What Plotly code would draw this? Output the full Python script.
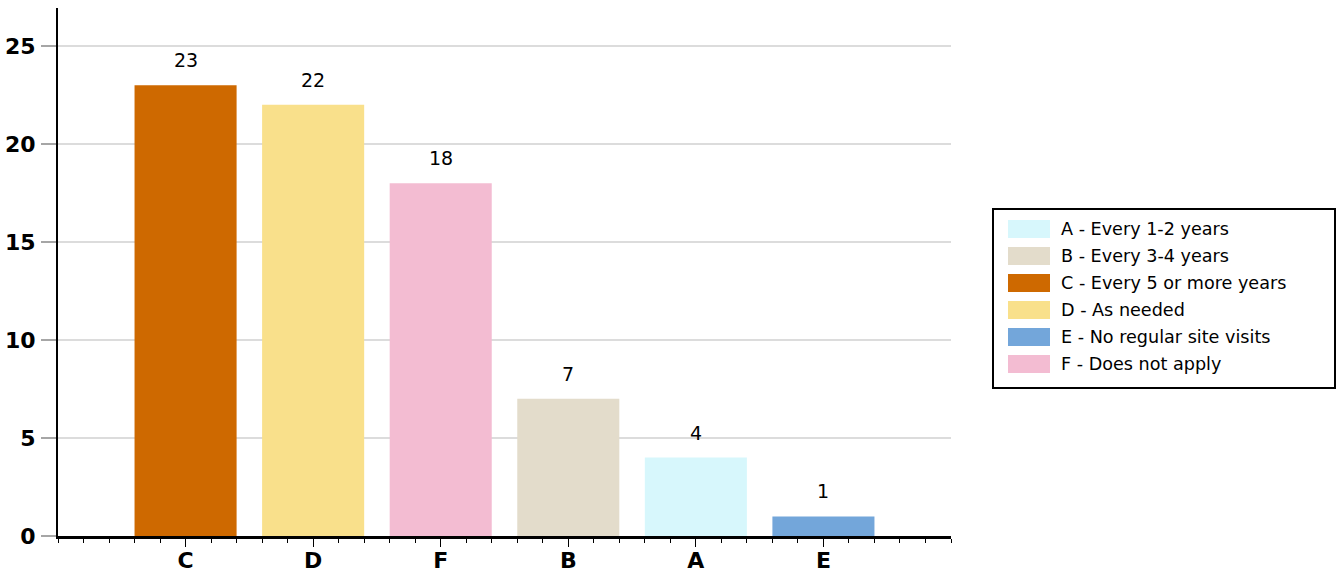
import plotly.graph_objects as go

# Data (sorted as displayed)
categories = ["C", "D", "F", "B", "A", "E"]
values = [23, 22, 18, 7, 4, 1]

legend_codes = ["A", "B", "C", "D", "E", "F"]
legend_labels = [
    "A - Every 1-2 years",
    "B - Every 3-4 years",
    "C - Every 5 or more years",
    "D - As needed",
    "E - No regular site visits",
    "F - Does not apply",
]
colors = {
    "A": "#D7F7FC",
    "B": "#E3DCCB",
    "C": "#CE6900",
    "D": "#F9E08B",
    "E": "#73A6DA",
    "F": "#F3BCD2",
}
y_ticks = [0, 5, 10, 15, 20, 25]

W, H = 1337, 576
L, R, T, B = 58, 386, 8, 40

FONT = "DejaVu Sans, Liberation Sans, Arial"

xs = list(range(len(categories)))

fig = go.Figure()
fig.add_trace(go.Bar(
    x=xs,
    y=values,
    width=0.8,
    marker=dict(color=[colors[c] for c in categories], line=dict(width=0)),
    showlegend=False,
    hoverinfo="skip",
))

for xi, v in zip(xs, values):
    fig.add_annotation(
        x=xi, y=v, xref="x", yref="y", text=str(v), showarrow=False,
        yanchor="middle", yshift=25,
        font=dict(family=FONT, size=19, color="#000000"),
    )

# Manual legend (positions given in page pixels)
pw = W - L - R
ph = H - T - B
def px_to_paper_x(px):
    return (px - L) / pw
def px_to_paper_y(py):
    return 1 - (py - T) / ph

fig.add_shape(type="rect", xref="paper", yref="paper",
              x0=px_to_paper_x(993), x1=px_to_paper_x(1335),
              y0=px_to_paper_y(388), y1=px_to_paper_y(209),
              line=dict(color="#000000", width=2), fillcolor="rgba(0,0,0,0)")
row0 = 229
step = 27
for i, (code, lab) in enumerate(zip(legend_codes, legend_labels)):
    cy = row0 + i * step
    fig.add_shape(type="rect", xref="paper", yref="paper",
                  x0=px_to_paper_x(1008), x1=px_to_paper_x(1050),
                  y0=px_to_paper_y(cy + 9), y1=px_to_paper_y(cy - 9),
                  line=dict(width=0), fillcolor=colors[code])
    fig.add_annotation(x=px_to_paper_x(1059), y=px_to_paper_y(cy), xref="paper", yref="paper",
                       text=lab, showarrow=False, xanchor="left", yanchor="middle",
                       font=dict(family=FONT, size=17.6, color="#000000"))

fig.update_layout(
    width=W, height=H,
    margin=dict(l=L, r=R, t=T, b=B, pad=0, autoexpand=False),
    paper_bgcolor="#FFFFFF",
    plot_bgcolor="#FFFFFF",
    bargap=0.2,
    showlegend=False,
    font=dict(family=FONT, color="#000000"),
)
fig.update_xaxes(
    range=[-1, 6],
    automargin=False,
    tickmode="array", tickvals=xs, ticktext=categories,
    ticks="outside", ticklen=8, tickwidth=1, tickcolor="#000000",
    minor=dict(dtick=0.2, tick0=0, ticks="outside", ticklen=4, tickwidth=1, tickcolor="#000000", showgrid=False),
    showline=True, linecolor="#000000", linewidth=3,
    showgrid=False, zeroline=False,
    tickfont=dict(family=FONT, size=22, color="#000000", weight="bold"),
    ticklabelstandoff=-5,
    fixedrange=True,
)
fig.update_yaxes(
    range=[0, 26.94],
    automargin=False,
    tickmode="array", tickvals=y_ticks,
    ticks="outside", ticklen=15, tickwidth=2, tickcolor="#A6A6A6",
    showline=True, linecolor="#000000", linewidth=2,
    showgrid=True, gridcolor="#DCDCDC", gridwidth=2,
    zeroline=False,
    tickfont=dict(family=FONT, size=22, color="#000000", weight="bold"),
    ticklabelstandoff=1,
    fixedrange=True,
)

fig.write_html(
    "out.html",
    config={"displayModeBar": False, "staticPlot": True},
    post_script="document.body.style.margin='0';document.body.style.overflow='hidden';",
)
